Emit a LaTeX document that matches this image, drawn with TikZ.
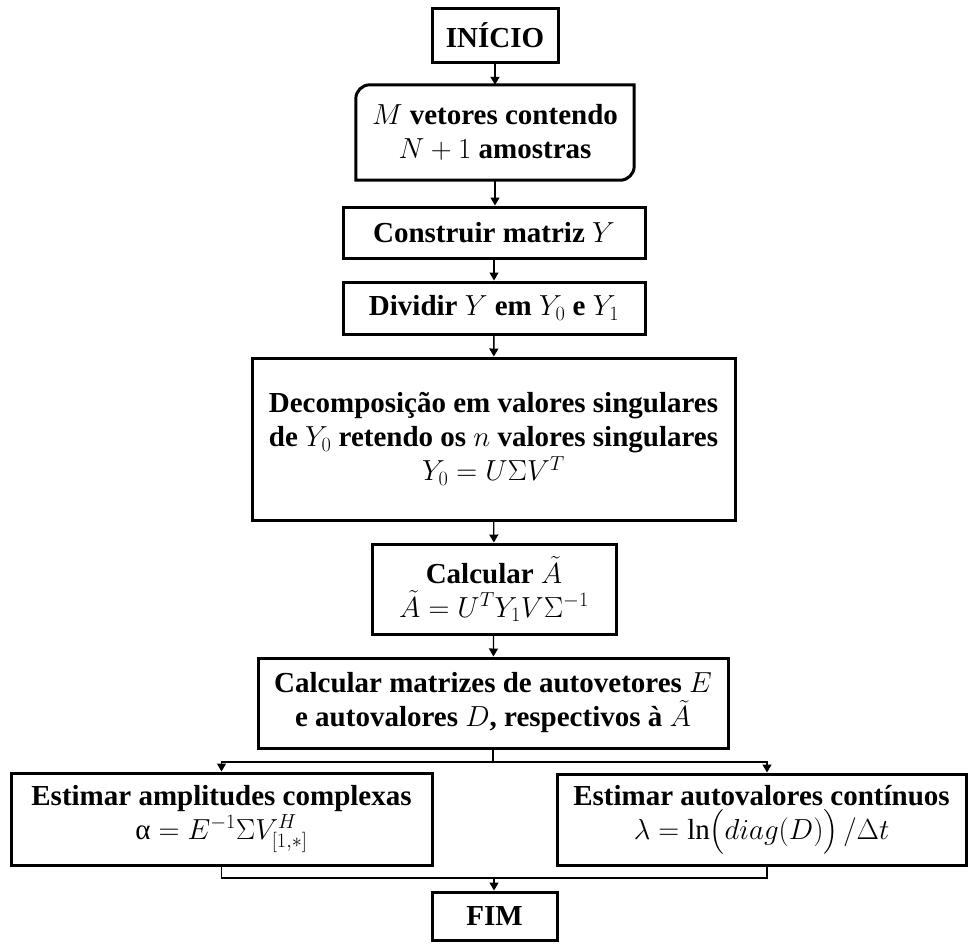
\RequirePackage{fix-cm}
\documentclass[tikz,border=0pt]{standalone}
\usepackage{amsmath}
\usepackage{fontspec}
\setmainfont{Liberation Serif}
\usetikzlibrary{arrows.meta}
\tikzset{
  box/.style={draw, line width=3pt, inner sep=0pt, align=center,
    font=\fontsize{29}{34}\selectfont\bfseries},
  plain/.style={draw=none, inner sep=0pt, align=center,
    font=\fontsize{29}{34}\selectfont\bfseries},
  ln/.style={line width=1.3pt},
  conn/.style={line width=1.3pt, -{Triangle[length=8pt,width=9pt]}},
}
\begin{document}
\begin{tikzpicture}[x=1pt,y=-1pt]
\useasboundingbox (0,0) rectangle (968,943);
\node[box, minimum width=126pt, minimum height=54pt] (inicio) at (495,35) {INÍCIO};
\node[plain, minimum width=278pt, minimum height=95pt] (mvet) at (495,132.5) {$M$ vetores contendo\\$N+1$ amostras};
\draw[line width=3pt] (mvet.west) [rounded corners=14pt] -- (mvet.north west) [sharp corners] -- (mvet.north east) [rounded corners=14pt] -- (mvet.south east) [sharp corners] -- (mvet.south west) -- cycle;
\node[box, minimum width=302pt, minimum height=51pt] (constr) at (494,232.5) {Construir matriz $Y$};
\node[box, minimum width=302pt, minimum height=52pt] (divid) at (494,308) {Dividir $Y$ em $Y_0$ e $Y_1$};
\node[box, minimum width=483pt, minimum height=162pt] (decomp) at (493.5,439) {Decomposição em valores singulares\\de $Y_0$ retendo os $n$ valores singulares\\$Y_0=U\Sigma V^T$};
\node[box, minimum width=244pt, minimum height=90pt] (calcA) at (494,589) {Calcular $\tilde{A}$\\$\tilde{A}=U^TY_1V\Sigma^{-1}$};
\node[box, minimum width=470pt, minimum height=90pt] (calcM) at (493,703) {Calcular matrizes de autovetores $E$\\e autovalores $D$, respectivos à $\tilde{A}$};
\node[box, minimum width=421pt, minimum height=92pt] (left) at (221.5,819) {Estimar amplitudes complexas\\$\mbox{\normalfont α}=E^{-1}\Sigma V^H_{[1,*]}$};
\node[box, minimum width=409pt, minimum height=91pt] (right) at (761.5,819.5) {Estimar autovalores contínuos\\$\lambda=\ln\bigl(diag(D)\bigr)\,/\Delta t$};
\node[box, minimum width=125pt, minimum height=48pt] (fim) at (494.5,916) {FIM};
\draw[conn] (inicio.south) -- (inicio.south |- mvet.north);
\draw[conn] (mvet.south) -- (mvet.south |- constr.north);
\draw[conn] (constr) -- (divid);
\draw[conn] (divid) -- (decomp);
\draw[conn] (decomp) -- (calcA);
\draw[conn] (calcA) -- (calcM);
\coordinate (sp) at (493,762);
\draw[ln] (calcM.south) -- (sp);
\draw[conn] (sp) -| (left.north);
\draw[conn] (sp) -| ([xshift=5.5pt]right.north);
\coordinate (mg) at (494,878);
\draw[ln] (left.south) |- (mg) -| ([xshift=5.5pt]right.south);
\draw[conn] (mg) -- (mg |- fim.north);
\end{tikzpicture}
\end{document}
